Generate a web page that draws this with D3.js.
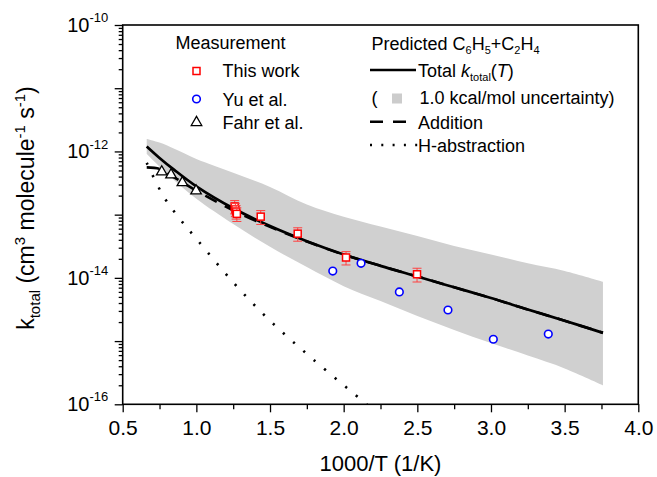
<!DOCTYPE html>
<html>
<head>
<meta charset="utf-8">
<script src="https://cdnjs.cloudflare.com/ajax/libs/d3/7.8.5/d3.min.js"></script>
<style>
    body { margin: 0; background: #fff; }
    svg text { font-family: Arial, "Liberation Sans", sans-serif; fill: #000; }
</style>
</head>
<body>
<div id="chart"></div>
<script>
// model curves (1000/T in 1/K, k in cm3 molecule-1 s-1)
var modelX     = [0.663, 0.75, 0.85, 1.0, 1.25, 1.5, 1.75, 2.0, 2.25, 2.5, 2.75, 3.0, 3.25, 3.5, 3.76];
var totalK     = [1.20e-12, 7.9e-13, 5.1e-13, 2.8e-13, 1.26e-13, 6.6e-14, 3.8e-14, 2.35e-14, 1.55e-14, 1.05e-14, 7.1e-15, 4.8e-15, 3.16e-15, 2.1e-15, 1.35e-15];
var upperK     = [1.58e-12, 1.38e-12, 1.10e-12, 7.6e-13, 4.6e-13, 2.75e-13, 1.45e-13, 9.3e-14, 6.5e-14, 4.6e-14, 3.2e-14, 2.35e-14, 1.7e-14, 1.29e-14, 8.7e-15];
var lowerK     = [9.1e-13, 5.75e-13, 3.5e-13, 1.78e-13, 7.1e-14, 3.1e-14, 1.48e-14, 7.4e-15, 4.3e-15, 2.5e-15, 1.5e-15, 9.3e-16, 5.9e-16, 3.7e-16, 2.0e-16];
var additionK  = [5.6e-13, 5.3e-13, 3.9e-13, 2.4e-13, 1.17e-13, 6.4e-14, 3.75e-14, 2.33e-14, 1.55e-14, 1.05e-14, 7.1e-15, 4.8e-15, 3.16e-15, 2.1e-15, 1.35e-15];

var habsX = [0.663, 0.78, 0.889, 1.006, 1.25, 1.5, 1.79, 2.15, 2.2];
var habsK = [6.6e-13, 1.9e-13, 8.5e-14, 4.0e-14, 8.5e-15, 2.1e-15, 5.2e-16, 1.02e-16, 8.0e-17];

// measurements
var thisWorkX   = [1.26, 1.265, 1.27, 1.275, 1.437, 1.688, 2.016, 2.498];
var thisWorkK   = [1.35e-13, 1.22e-13, 1.12e-13, 1.03e-13, 9.3e-14, 5.0e-14, 2.1e-14, 1.14e-14];
var thisWorkErr = [3.2e-14, 2.9e-14, 2.7e-14, 2.5e-14, 2.3e-14, 1.2e-14, 5.0e-15, 2.8e-15];

var yuX = [1.926, 2.118, 2.378, 2.708, 3.016, 3.389];
var yuK = [1.28e-14, 1.7e-14, 6.0e-15, 3.1e-15, 1.07e-15, 1.29e-15];

var fahrX = [0.765, 0.828, 0.905, 0.998];
var fahrK = [4.9e-13, 4.4e-13, 3.3e-13, 2.45e-13];

// axes
var xTicks = [0.5, 1.0, 1.5, 2.0, 2.5, 3.0, 3.5, 4.0];
var xMinorTicks = [0.75, 1.25, 1.75, 2.25, 2.75, 3.25, 3.75];
var yTicks = [1e-16, 1e-14, 1e-12, 1e-10];
var yTickExp = ["-16", "-14", "-12", "-10"];
var yMidTicks = [1e-15, 1e-13, 1e-11];

(function () {
    var width = 657, height = 477;
    var left = 122.7, right = 638.3, top = 25, bottom = 404.3;

    var svg = d3.select("#chart")
        .append("svg")
        .attr("width", width)
        .attr("height", height)
        .attr("xmlns", "http://www.w3.org/2000/svg");

    var x = d3.scaleLinear().domain([0.5, 4.0]).range([left, right]);
    var y = d3.scaleLog().domain([1e-16, 1e-10]).range([bottom, top]);

    svg.append("clipPath").attr("id", "plotclip")
        .append("rect")
        .attr("x", left).attr("y", top)
        .attr("width", right - left).attr("height", bottom - top);

    var plot = svg.append("g").attr("clip-path", "url(#plotclip)");

    var model = modelX.map(function (d, i) {
        return {x: d, total: totalK[i], up: upperK[i], lo: lowerK[i], add: additionK[i]};
    });

    // uncertainty band
    var area = d3.area()
        .x(function (d) { return x(d.x); })
        .y0(function (d) { return y(d.lo); })
        .y1(function (d) { return y(d.up); })
        .curve(d3.curveCatmullRom.alpha(0.5));

    plot.append("path")
        .attr("d", area(model))
        .attr("fill", "#d0d0d0");

    // H-abstraction
    var habs = habsX.map(function (d, i) { return {x: d, k: habsK[i]}; });
    var kLine = d3.line()
        .x(function (d) { return x(d.x); })
        .y(function (d) { return y(d.k); })
        .curve(d3.curveCatmullRom.alpha(0.5));

    plot.append("path")
        .attr("d", kLine(habs))
        .attr("fill", "none")
        .attr("stroke", "#000")
        .attr("stroke-width", 2.6)
        .attr("stroke-dasharray", "2.2,11.5");

    // addition
    plot.append("path")
        .attr("d", kLine(model.map(function (d) { return {x: d.x, k: d.add}; })))
        .attr("fill", "none")
        .attr("stroke", "#000")
        .attr("stroke-width", 2.6)
        .attr("stroke-dasharray", "13,9");

    // total
    plot.append("path")
        .attr("d", kLine(model.map(function (d) { return {x: d.x, k: d.total}; })))
        .attr("fill", "none")
        .attr("stroke", "#000")
        .attr("stroke-width", 2.7);

    // Fahr et al.
    var tri = d3.symbol().type(d3.symbolTriangle).size(48);
    svg.selectAll(".fahr")
        .data(fahrX)
        .enter().append("path")
        .attr("class", "fahr")
        .attr("d", tri)
        .attr("transform", function (d, i) { return "translate(" + x(d) + "," + (y(fahrK[i]) + 0.8) + ")"; })
        .attr("fill", "#fff")
        .attr("stroke", "#000")
        .attr("stroke-width", 1.3);

    // this work, with error bars
    var tw = svg.selectAll(".tw")
        .data(thisWorkX)
        .enter().append("g")
        .attr("class", "tw");

    tw.append("line")
        .attr("x1", function (d) { return x(d); })
        .attr("x2", function (d) { return x(d); })
        .attr("y1", function (d, i) { return y(thisWorkK[i] + thisWorkErr[i]); })
        .attr("y2", function (d, i) { return y(thisWorkK[i] - thisWorkErr[i]); })
        .attr("stroke", "#ff4040").attr("stroke-width", 1);
    [1, -1].forEach(function (s) {
        tw.append("line")
            .attr("x1", function (d) { return x(d) - 4.5; })
            .attr("x2", function (d) { return x(d) + 4.5; })
            .attr("y1", function (d, i) { return y(thisWorkK[i] + s * thisWorkErr[i]); })
            .attr("y2", function (d, i) { return y(thisWorkK[i] + s * thisWorkErr[i]); })
            .attr("stroke", "#ff4040").attr("stroke-width", 1);
    });
    tw.append("rect")
        .attr("x", function (d) { return x(d) - 3.5; })
        .attr("y", function (d, i) { return y(thisWorkK[i]) - 3.5; })
        .attr("width", 7).attr("height", 7)
        .attr("fill", "#fff")
        .attr("stroke", "#ff0000")
        .attr("stroke-width", 1.5);

    // Yu et al.
    svg.selectAll(".yu")
        .data(yuX)
        .enter().append("circle")
        .attr("class", "yu")
        .attr("cx", function (d) { return x(d); })
        .attr("cy", function (d, i) { return y(yuK[i]); })
        .attr("r", 3.8)
        .attr("fill", "#fff")
        .attr("stroke", "#0000ff")
        .attr("stroke-width", 1.6);

    // frame
    svg.append("rect")
        .attr("x", left).attr("y", top)
        .attr("width", right - left).attr("height", bottom - top)
        .attr("fill", "none")
        .attr("stroke", "#000")
        .attr("stroke-width", 1.6);

    // x axis
    var gx = svg.append("g")
        .attr("transform", "translate(0," + bottom + ")")
        .call(d3.axisBottom(x).tickValues(xTicks).tickSize(8).tickPadding(8).tickFormat(d3.format(".1f")));
    svg.append("g")
        .attr("transform", "translate(0," + bottom + ")")
        .call(d3.axisBottom(x).tickValues(xMinorTicks).tickSize(5).tickFormat(""));

    // y axis
    var gy = svg.append("g")
        .attr("transform", "translate(" + left + ",0)")
        .call(d3.axisLeft(y).tickValues(yTicks).tickSize(8).tickPadding(6.5).tickFormat(function () { return "10"; }));
    svg.append("g")
        .attr("transform", "translate(" + left + ",0)")
        .call(d3.axisLeft(y).tickValues(yMidTicks).tickSize(8).tickFormat(""));
    var yMinor = [];
    yTicks.concat(yMidTicks).forEach(function (t) {
        if (t >= 1e-10) return;
        d3.range(2, 10).forEach(function (m) { yMinor.push(m * t); });
    });
    svg.append("g")
        .attr("transform", "translate(" + left + ",0)")
        .call(d3.axisLeft(y).tickValues(yMinor).tickSize(4).tickFormat(""));

    svg.selectAll(".domain").remove();
    svg.selectAll(".tick line").attr("stroke", "#000").attr("stroke-width", 1.3);

    gx.selectAll(".tick text")
        .attr("font-size", "21px")
        .attr("font-family", "Arial, 'Liberation Sans', sans-serif")
        .attr("fill", "#000");

    gy.selectAll(".tick text").each(function (d, i) {
        var t = d3.select(this);
        t.text(null)
            .attr("font-size", "20px")
            .attr("font-family", "Arial, 'Liberation Sans', sans-serif")
            .attr("fill", "#000");
        t.append("tspan").text("10");
        t.append("tspan").attr("font-size", "13px").attr("dy", "-0.75em").text(yTickExp[i]);
    });

    // axis titles
    svg.append("text")
        .attr("x", (left + right) / 2)
        .attr("y", 471)
        .attr("text-anchor", "middle")
        .attr("font-size", "22px")
        .text("1000/T (1/K)");

    var yt = svg.append("text")
        .attr("transform", "translate(34,208) rotate(-90)")
        .attr("text-anchor", "middle")
        .attr("font-size", "23px");
    yt.append("tspan").text("k");
    yt.append("tspan").attr("font-size", "15px").attr("dy", 6).text("total");
    yt.append("tspan").attr("dy", -6).text(" (cm");
    yt.append("tspan").attr("font-size", "15px").attr("dy", -9).text("3");
    yt.append("tspan").attr("dy", 9).text(" molecule");
    yt.append("tspan").attr("font-size", "15px").attr("dy", -9).text("-1");
    yt.append("tspan").attr("dy", 9).text(" s");
    yt.append("tspan").attr("font-size", "15px").attr("dy", -9).text("-1");
    yt.append("tspan").attr("dy", 9).text(")");

    // legend: measurements
    var leg = svg.append("g").attr("font-size", "18px");
    leg.append("text").attr("x", 175.5).attr("y", 49).text("Measurement");
    leg.append("rect").attr("x", 193).attr("y", 67.5).attr("width", 7).attr("height", 7)
        .attr("fill", "#fff").attr("stroke", "#ff0000").attr("stroke-width", 1.5);
    leg.append("text").attr("x", 222.5).attr("y", 77).text("This work");
    leg.append("circle").attr("cx", 196.5).attr("cy", 99).attr("r", 3.8)
        .attr("fill", "#fff").attr("stroke", "#0000ff").attr("stroke-width", 1.6);
    leg.append("text").attr("x", 222.5).attr("y", 106).text("Yu et al.");
    leg.append("path").attr("d", tri).attr("transform", "translate(196.5,122.5)")
        .attr("fill", "#fff").attr("stroke", "#000").attr("stroke-width", 1.3);
    leg.append("text").attr("x", 222.5).attr("y", 129).text("Fahr et al.");

    // legend: predictions
    var pt = leg.append("text").attr("x", 371.5).attr("y", 50);
    pt.append("tspan").text("Predicted C");
    pt.append("tspan").attr("font-size", "11px").attr("dy", 4).text("6");
    pt.append("tspan").attr("dy", -4).text("H");
    pt.append("tspan").attr("font-size", "11px").attr("dy", 4).text("5");
    pt.append("tspan").attr("dy", -4).text("+C");
    pt.append("tspan").attr("font-size", "11px").attr("dy", 4).text("2");
    pt.append("tspan").attr("dy", -4).text("H");
    pt.append("tspan").attr("font-size", "11px").attr("dy", 4).text("4");

    leg.append("line").attr("x1", 370).attr("x2", 416).attr("y1", 70).attr("y2", 70)
        .attr("stroke", "#000").attr("stroke-width", 2.6);
    var tt = leg.append("text").attr("x", 418).attr("y", 77);
    tt.append("tspan").text("Total ");
    tt.append("tspan").attr("font-style", "italic").text("k");
    tt.append("tspan").attr("font-size", "11px").attr("dy", 4).text("total");
    tt.append("tspan").attr("dy", -4).text("(");
    tt.append("tspan").attr("font-style", "italic").text("T");
    tt.append("tspan").text(")");

    leg.append("text").attr("x", 371.5).attr("y", 104).text("(");
    leg.append("rect").attr("x", 392).attr("y", 93.5).attr("width", 10).attr("height", 10).attr("fill", "#cccccc");
    leg.append("text").attr("x", 419.5).attr("y", 104).text("1.0 kcal/mol uncertainty)");

    leg.append("line").attr("x1", 370).attr("x2", 416).attr("y1", 121.7).attr("y2", 121.7)
        .attr("stroke", "#000").attr("stroke-width", 2.6).attr("stroke-dasharray", "13,10");
    leg.append("text").attr("x", 418).attr("y", 128.5).text("Addition");

    leg.append("line").attr("x1", 370).attr("x2", 418).attr("y1", 145).attr("y2", 145)
        .attr("stroke", "#000").attr("stroke-width", 2.4).attr("stroke-dasharray", "2,9.3");
    leg.append("text").attr("x", 418).attr("y", 152).text("H-abstraction");
})();
</script>
</body>
</html>
